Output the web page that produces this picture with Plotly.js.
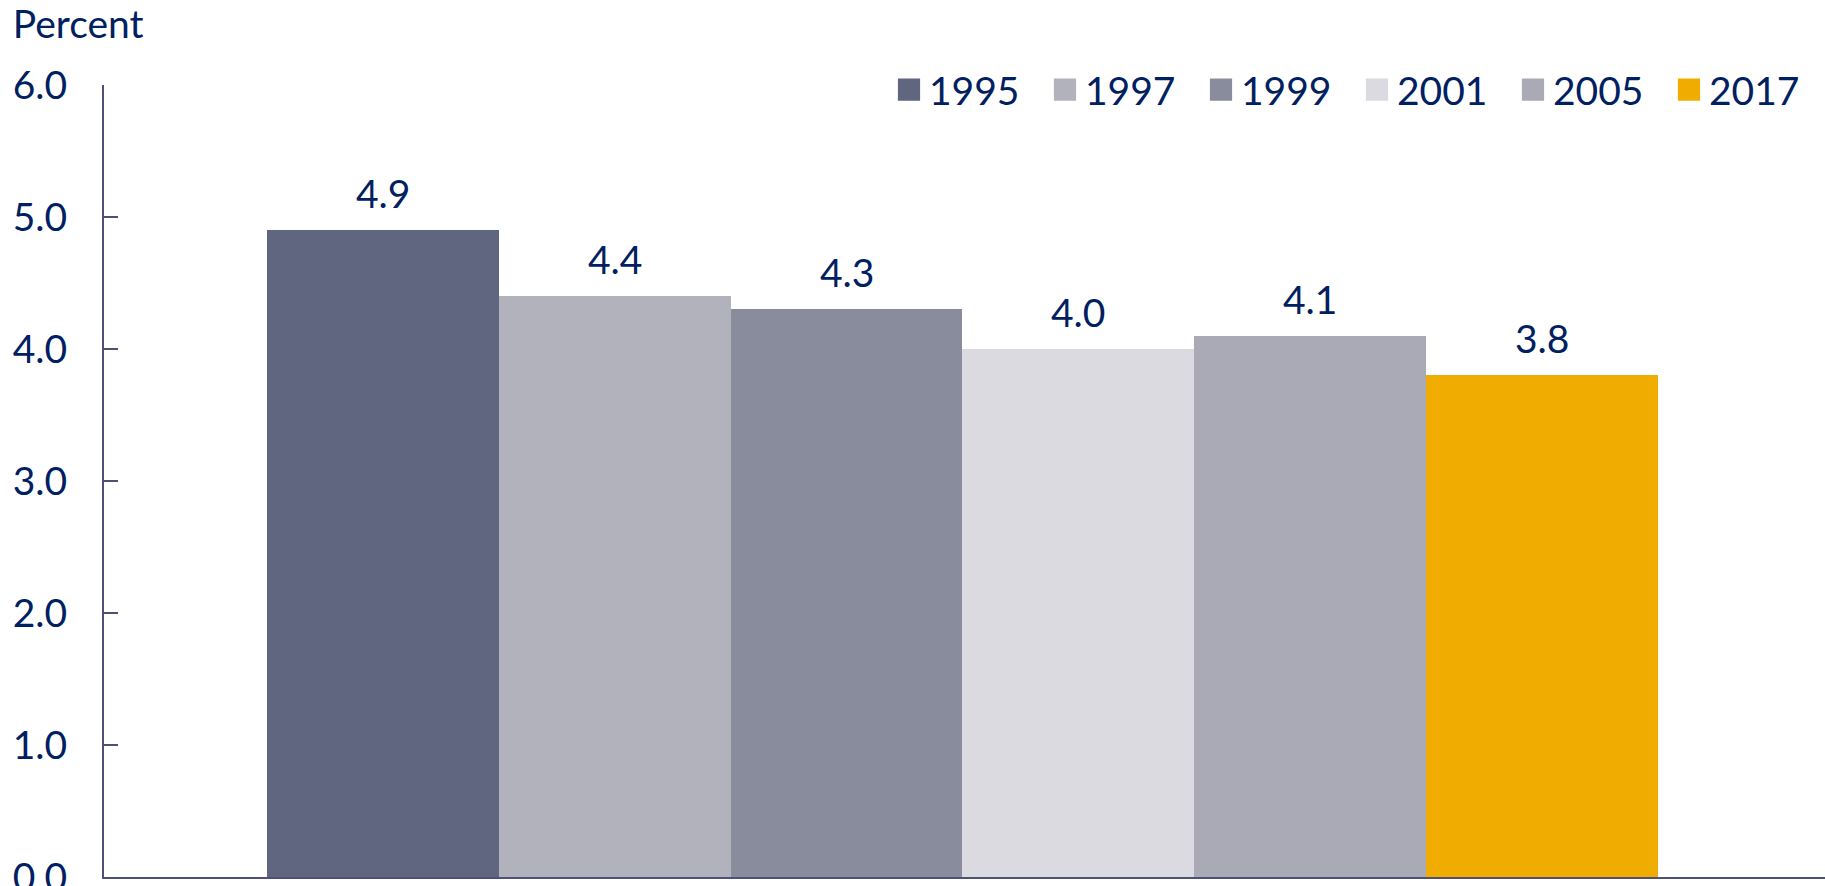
<!DOCTYPE html>
<html>
<head>
<meta charset="utf-8">
<script src="https://cdn.plot.ly/plotly-3.0.1.min.js"></script>
<style>html,body{margin:0;padding:0;background:#fff;}#chart{width:1825px;height:886px;}</style>
</head>
<body>
<div id="chart"></div>
<script>
const years = ["1995", "1997", "1999", "2001", "2005", "2017"];
const values = [4.9, 4.4, 4.3, 4.0, 4.1, 3.8];
const colors = ["#606580", "#b2b2bc", "#898c9c", "#dadae0", "#aaaab6", "#f0ac00"];
const yTicks = [0, 1, 2, 3, 4, 5, 6];
const yTickLabels = ["0.0", "1.0", "2.0", "3.0", "4.0", "5.0", "6.0"];

const FONT = "Lato, 'Open Sans', sans-serif";
const FS = 39;
const NAVY = "#002060";
const AXIS = "#4f5078";

const traces = years.map((yr, i) => ({
  type: "bar",
  name: yr,
  x: [yr],
  y: [values[i]],
  width: 1,
  marker: {color: colors[i], line: {width: 0}},
  hoverinfo: "skip"
}));

// value labels: x is the category's serial index, y the bar value
const annotations = years.map((yr, i) => ({
  x: i,
  y: values[i],
  xref: "x",
  yref: "y",
  text: values[i].toFixed(1),
  showarrow: false,
  yanchor: "bottom",
  yshift: 12,
  font: {family: FONT, size: FS, color: NAVY}
}));

const layout = {
  width: 1825,
  height: 886,
  margin: {l: 104, r: 0, t: 85, b: 9},
  paper_bgcolor: "#ffffff",
  plot_bgcolor: "#ffffff",
  barmode: "overlay",
  bargap: 0,
  font: {family: FONT, size: FS, color: NAVY},
  title: {
    text: "Percent",
    font: {family: FONT, size: FS, color: NAVY},
    xref: "container", yref: "container",
    x: 0.007, xanchor: "left",
    y: 0.972, yanchor: "middle"
  },
  annotations: annotations,
  xaxis: {
    type: "category",
    range: [-1.203, 6.221],
    showticklabels: false,
    ticks: "",
    showgrid: false,
    zeroline: false,
    showline: true,
    linecolor: AXIS,
    linewidth: 2,
    fixedrange: true
  },
  yaxis: {
    range: [0, 6],
    tickvals: yTicks,
    ticktext: yTickLabels,
    ticks: "inside",
    ticklen: 14,
    tickwidth: 2,
    tickcolor: AXIS,
    ticklabelstandoff: 27,
    ticklabeloverflow: "allow",
    tickfont: {family: FONT, size: FS, color: NAVY},
    showgrid: false,
    zeroline: false,
    showline: true,
    linecolor: AXIS,
    linewidth: 2,
    fixedrange: true
  },
  legend: {
    orientation: "h",
    x: 1.0, xanchor: "right",
    y: 0.994, yanchor: "middle",
    font: {family: FONT, size: FS, color: NAVY},
    itemwidth: 30,
    entrywidth: 111,
    entrywidthmode: "pixels",
    bgcolor: "rgba(0,0,0,0)",
    traceorder: "normal"
  },
  showlegend: true
};

Plotly.newPlot("chart", traces, layout, {displayModeBar: false, staticPlot: true}).then(gd => {
  // enlarge legend swatches to match the reference's bigger squares
  gd.querySelectorAll(".legendpoints path").forEach(p => {
    const t = p.getAttribute("transform") || "";
    p.setAttribute("transform", t + " scale(1.85)");
  });
});
</script>
</body>
</html>
